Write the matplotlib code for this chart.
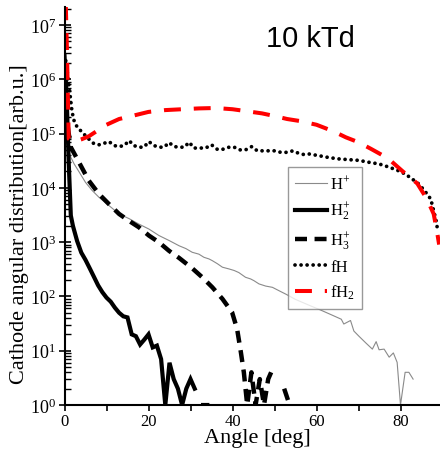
import numpy as np
import matplotlib
matplotlib.use('Agg')
import matplotlib.pyplot as plt
from matplotlib.ticker import LogLocator, LogFormatterMathtext, MultipleLocator, NullFormatter

plt.rcParams['font.family'] = ['Liberation Serif', 'DejaVu Serif']
plt.rcParams['mathtext.fontset'] = 'custom'
plt.rcParams['mathtext.rm'] = 'Liberation Serif'
plt.rcParams['mathtext.it'] = 'Liberation Serif:italic'
plt.rcParams['mathtext.bf'] = 'Liberation Serif:bold'

# ---------------- data ----------------
hp_x = [0, 0.5, 1.1, 2.3, 3.5, 5.0, 6.6, 8.2, 10.6, 13.0, 15.4, 17.7, 20.1, 22.5, 24.9,
        27.3, 28.9, 30.4, 32.0, 33.2, 34.4, 35.2, 36.4, 37.6, 39.2, 40.4, 41.5, 43.1,
        44.3, 45.1, 46.3, 47.9, 49.5, 51.1, 52.7, 55, 58, 61, 63.5, 65.9, 66.5, 68.1,
        68.9, 70.1, 71.7, 73.3, 74.2, 74.9, 76.1, 77.3, 78.3, 79.2, 80.0, 81.1, 82.0, 83.0]
hp_y = [2.0e6, 3.0e5, 4.2e4, 2.75e4, 1.95e4, 1.26e4, 8.9e3, 6.7e3, 4.7e3, 3.3e3, 2.7e3,
        2.15e3, 1.74e3, 1.32e3, 1.07e3, 855, 760, 650, 600, 525, 490, 455, 400, 345, 320,
        300, 275, 225, 210, 195, 170, 155, 147, 127, 110, 88, 70, 56, 46, 38, 31, 36, 23,
        18.5, 14, 10.7, 14.7, 10.4, 10.7, 7.6, 9.1, 6.1, 1, 4.0, 4.0, 3.0]

h2_x = [0, 0.5, 1, 1.5, 2, 3, 4, 5, 6, 7, 8, 9, 10, 11, 12, 13, 14, 15, 16, 17, 18, 19,
        20, 21, 22, 23, 24, 25, 26, 27, 28, 29, 30, 31, 32, 33, 34, 35]
h2_y = [2.7e6, 5e5, 3e4, 3.1e3, 2.0e3, 1.05e3, 640, 470, 330, 230, 160, 120, 95, 80, 62,
        50, 43, 41, 20, 18.5, 13, 16, 20, 11.5, 12.4, 7, 1, 6, 3, 2, 1, 2, 3, 2, 0, 1, 1, 0]

h3_x = [0, 0.5, 1, 1.5, 3.45, 5.8, 8.2, 10.6, 13.0, 15.4, 17.7, 20.1, 22.5, 24.9, 27.3,
        30.4, 32.8, 35.2, 37.6, 39.9, 41.1, 42.0, 42.7, 43.5, 44.5, 45.5, 46.5, 47.5, 48.5,
        49.2, 50, 52.3, 53.6, 54.5]
h3_y = [3e5, 2e5, 1e5, 5.6e4, 2.95e4, 1.35e4, 7.7e3, 5.0e3, 3.3e3, 2.45e3, 1.88e3, 1.32e3,
        990, 690, 510, 330, 225, 147, 90, 51, 25, 9.3, 4, 1, 4, 1, 3, 1, 3, 4, 0, 2, 1, 0]

fh_x = [0.3, 1.1, 1.8, 2.3, 3.0, 4.6, 5.8, 7.0, 8.2, 9.4, 10.6, 11.8, 13.0, 14.2, 15.4,
        16.5, 17.7, 18.9, 20.1, 21.3, 22.5, 23.7, 24.9, 26.1, 27.3, 28.5, 29.7, 30.8, 32.4,
        33.6, 35.0, 36.4, 37.6, 39.2, 40.4, 41.7, 43.1, 44.6, 45.9, 47.3, 48.7, 50.1, 51.5,
        53.0, 54.4, 55.8, 57.0, 58.2, 60.6, 63.0, 65.4, 67.7, 70.1, 72.5, 74.9, 77.3, 79.6,
        81.2, 82.8, 84.4, 86.0, 87.2, 87.6, 88.0, 88.4, 88.8]
fh_y = [2.19e6, 7.2e5, 2.5e5, 1.7e5, 1.32e5, 9.8e4, 7.9e4, 6.5e4, 6.2e4, 6.6e4, 7.1e4,
        6.0e4, 5.75e4, 6.0e4, 7.4e4, 6.0e4, 5.6e4, 5.6e4, 7.1e4, 6.0e4, 5.6e4, 5.6e4, 6.8e4,
        5.75e4, 5.6e4, 5.6e4, 6.9e4, 5.4e4, 5.4e4, 5.4e4, 6.2e4, 5.1e4, 5.1e4, 5.6e4, 5.6e4,
        5.0e4, 5.0e4, 5.75e4, 4.8e4, 4.8e4, 4.8e4, 4.8e4, 4.5e4, 4.5e4, 4.8e4, 4.3e4, 4.1e4,
        4.2e4, 3.9e4, 3.6e4, 3.4e4, 3.3e4, 3.2e4, 2.95e4, 2.75e4, 2.4e4, 2.05e4, 1.78e4,
        1.45e4, 1.17e4, 8.3e3, 6.2e3, 4.7e3, 3.5e3, 2.7e3, 1.74e3]

fh2_x = [0.3, 0.6, 1.0, 2.0, 4.0, 5.8, 8, 10, 13, 16, 20, 24, 28, 32, 36, 40, 43, 47, 50,
         53, 56, 60, 64, 67, 70, 73, 77, 80.4, 84, 86.3, 87.9, 88.7, 89.2]
fh2_y = [2.5e7, 3e6, 8e4, 7e4, 7.8e4, 8.9e4, 1.15e5, 1.45e5, 1.85e5, 2.1e5, 2.5e5, 2.7e5,
         2.8e5, 2.9e5, 2.95e5, 2.8e5, 2.6e5, 2.35e5, 2.1e5, 1.85e5, 1.7e5, 1.45e5, 1.1e5,
         8.5e4, 6.9e4, 5.2e4, 3.5e4, 2.05e4, 1.2e4, 6.2e3, 3.3e3, 1.55e3, 900]

labels = [r'$\mathrm{H}^{+}$', r'$\mathrm{H}_{2}^{+}$', r'$\mathrm{H}_{3}^{+}$',
          'fH', r'$\mathrm{fH}_{2}$']
x_ticks = [0, 20, 40, 60, 80]
title_text = '10 kTd'


def pos(v):
    a = np.array(v, dtype=float)
    a[a <= 0] = np.nan
    return a


fig = plt.figure(figsize=(4.4, 4.56), dpi=100)
ax = fig.add_axes([64.5 / 440, 50 / 456, 378 / 440, 398 / 456])
ax.set_yscale('log')

ax.plot(hp_x, pos(hp_y), color='#8a8a8a', lw=0.8, label=labels[0])
ax.plot(h2_x, pos(h2_y), color='black', lw=3.0, label=labels[1], solid_joinstyle='miter')
ax.plot(h3_x, pos(h3_y), color='black', lw=3.2, ls=(0, (2.7, 1.7)), label=labels[2])
ax.plot(fh_x, pos(fh_y), color='black', lw=2.7, ls=(0, (0.01, 1.6)),
        dash_capstyle='round', label=labels[3])
ax.plot(fh2_x, pos(fh2_y), color='#ff0000', lw=2.9, ls=(0, (4.2, 3.2)), label=labels[4])

ax.set_xlim(0, 90)
ax.set_ylim(1, 10 ** 7.33)

ax.xaxis.set_major_locator(plt.FixedLocator(x_ticks))
ax.xaxis.set_minor_locator(MultipleLocator(10))
ax.yaxis.set_major_locator(LogLocator(base=10, numticks=20))
ax.yaxis.set_minor_locator(LogLocator(base=10, subs=np.arange(2, 10), numticks=20))
ax.yaxis.set_major_formatter(LogFormatterMathtext())
ax.yaxis.set_minor_formatter(NullFormatter())

ax.tick_params(axis='x', which='major', direction='out', length=4, width=1.2, labelsize=12, pad=2)
ax.tick_params(axis='x', which='minor', direction='out', length=4, width=1.2)
ax.tick_params(axis='y', which='major', direction='inout', length=8, width=1.2, labelsize=13, pad=2)
ax.tick_params(axis='y', which='minor', direction='in', length=4, width=1.0)
ax.spines['top'].set_visible(False)
ax.spines['right'].set_visible(False)
ax.spines['left'].set_linewidth(1.5)
ax.spines['bottom'].set_linewidth(1.5)

ax.set_xlabel('Angle [deg]', fontsize=16)
ax.xaxis.set_label_coords(0.509, -0.058)
ax.set_ylabel('Cathode angular distribution[arb.u.]', fontsize=16)
ax.yaxis.set_label_coords(-0.094, 0.457)

leg = ax.legend(loc='upper left', bbox_to_anchor=(0.59, 0.598), fontsize=12,
                handlelength=1.9, handletextpad=0.2, labelspacing=0.45, borderpad=0.45,
                borderaxespad=0, fancybox=False, frameon=True)
leg.get_frame().set_edgecolor('#808080')
leg.get_frame().set_linewidth(1.0)

fig.text(310 / 440, 1 - 39 / 456, title_text, fontfamily='Liberation Sans', fontsize=21,
         ha='center', va='center')

fig.savefig('out.png', dpi=100)
